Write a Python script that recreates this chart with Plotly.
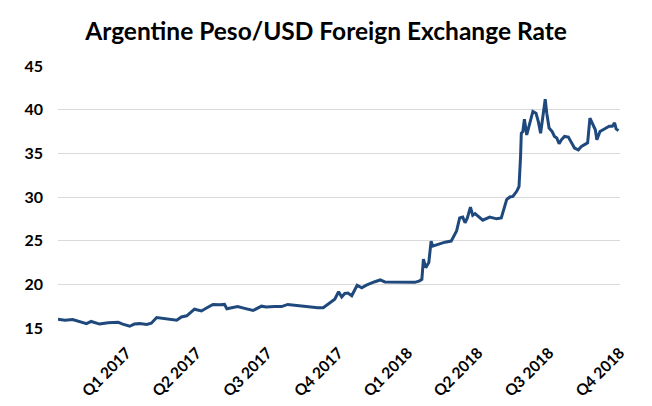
import plotly.graph_objects as go

dates = [
    "2017-01-01", "2017-01-10", "2017-01-20", "2017-01-27", "2017-02-07", "2017-02-13",
    "2017-02-24", "2017-03-07", "2017-03-20", "2017-03-26", "2017-04-04", "2017-04-10",
    "2017-04-17", "2017-04-26", "2017-05-02", "2017-05-09", "2017-05-19", "2017-05-26",
    "2017-06-04", "2017-06-10", "2017-06-17", "2017-06-27", "2017-07-06", "2017-07-15",
    "2017-07-21", "2017-07-30", "2017-08-05", "2017-08-08", "2017-08-18", "2017-08-22",
    "2017-08-31", "2017-09-11", "2017-09-22", "2017-09-28", "2017-10-09", "2017-10-18",
    "2017-10-26", "2017-11-04", "2017-11-13", "2017-11-23", "2017-12-04", "2017-12-11",
    "2017-12-17", "2017-12-26", "2017-12-31", "2018-01-04", "2018-01-08", "2018-01-12",
    "2018-01-17", "2018-01-24", "2018-01-30", "2018-02-05", "2018-02-16", "2018-02-23",
    "2018-03-01", "2018-03-12", "2018-03-23", "2018-04-09", "2018-04-15", "2018-04-18",
    "2018-04-20", "2018-04-23", "2018-04-27", "2018-04-30", "2018-05-02", "2018-05-09",
    "2018-05-18", "2018-05-26", "2018-05-30", "2018-06-02", "2018-06-06", "2018-06-10",
    "2018-06-13", "2018-06-16", "2018-06-20", "2018-06-23", "2018-06-26", "2018-07-02",
    "2018-07-06", "2018-07-15", "2018-07-24", "2018-07-30", "2018-08-01", "2018-08-06",
    "2018-08-10", "2018-08-14", "2018-08-19", "2018-08-22", "2018-08-24", "2018-08-25",
    "2018-08-27", "2018-08-29", "2018-09-01", "2018-09-04", "2018-09-09", "2018-09-13",
    "2018-09-16", "2018-09-19", "2018-09-21", "2018-09-25", "2018-09-27", "2018-09-30",
    "2018-10-04", "2018-10-07", "2018-10-10", "2018-10-13", "2018-10-16", "2018-10-20",
    "2018-10-25", "2018-10-29", "2018-11-02", "2018-11-07", "2018-11-11", "2018-11-15",
    "2018-11-19", "2018-11-22", "2018-11-26", "2018-11-29", "2018-12-01", "2018-12-05",
    "2018-12-09", "2018-12-13", "2018-12-17", "2018-12-21", "2018-12-24", "2018-12-26",
    "2018-12-29",
]

rates = [
    16.0, 15.9, 15.97, 15.8, 15.5, 15.75,
    15.45, 15.6, 15.65, 15.45, 15.2, 15.45,
    15.5, 15.4, 15.55, 16.2, 16.1, 15.97,
    15.9, 16.27, 16.4, 17.15, 16.95, 17.4,
    17.7, 17.65, 17.7, 17.2, 17.33, 17.45,
    17.25, 17.0, 17.5, 17.4, 17.45, 17.45,
    17.7, 17.6, 17.5, 17.45, 17.33, 17.33,
    17.7, 18.3, 19.15, 18.55, 18.95, 19.0,
    18.7, 19.9, 19.6, 19.9, 20.3, 20.5,
    20.27, 20.27, 20.23, 20.23, 20.4, 20.57,
    22.9, 21.9, 22.5, 24.95, 24.37, 24.57,
    24.83, 24.95, 25.7, 26.1, 27.6, 27.7,
    27.05, 27.6, 28.85, 27.9, 28.1, 27.6,
    27.35, 27.7, 27.5, 27.6, 28.2, 29.7,
    30.0, 30.07, 30.65, 31.2, 34.6, 37.3,
    37.5, 38.9, 37.1, 38.07, 39.8, 39.6,
    38.65, 37.3, 38.8, 41.2, 39.6, 37.9,
    37.5, 36.93, 36.75, 36.1, 36.55, 36.93,
    36.86, 36.2, 35.6, 35.4, 35.8, 36.0,
    36.2, 39.03, 38.27, 37.7, 36.55, 37.5,
    37.7, 37.9, 38.1, 38.1, 38.5, 37.8,
    37.6,
]

tick_dates = ["2017-03-31", "2017-06-30", "2017-09-30", "2017-12-31",
              "2018-03-31", "2018-06-30", "2018-09-30", "2018-12-31"]
tick_labels = ["Q1 2017", "Q2 2017", "Q3 2017", "Q4 2017",
               "Q1 2018", "Q2 2018", "Q3 2018", "Q4 2018"]
y_ticks = [15, 20, 25, 30, 35, 40, 45]

fig = go.Figure()
fig.add_trace(go.Scatter(
    x=dates, y=rates, mode="lines",
    line=dict(color="#1F497D", width=3),
    showlegend=False,
))

fig.update_layout(
    width=652, height=406,
    margin=dict(l=58, r=32, t=66, b=78),
    paper_bgcolor="white", plot_bgcolor="white",
    title=dict(
        text="<b>Argentine Peso/USD Foreign Exchange Rate</b>",
        x=0.5, xanchor="center", xref="container",
        y=1 - 31 / 406, yanchor="middle", yref="container",
        font=dict(family="Lato", size=24.5, color="black"),
    ),
    xaxis=dict(
        type="date",
        range=["2017-01-01", "2018-12-31"],
        tickmode="array", tickvals=tick_dates,
        ticktext=[f"<b>{t}</b>" for t in tick_labels],
        tickangle=-45,
        tickfont=dict(family="Lato", size=15.5, color="black"),
        showgrid=False, zeroline=False, showline=False,
        ticks="", ticklabelstandoff=12, automargin=False,
    ),
    yaxis=dict(
        range=[15, 45],
        tickmode="array", tickvals=y_ticks,
        ticktext=[f"<b>{v}</b>" for v in y_ticks],
        tickfont=dict(family="Lato", size=16, color="black"),
        showgrid=True, gridcolor="#D9D9D9", gridwidth=1,
        zeroline=False, showline=False,
        ticks="", ticklabelstandoff=14, automargin=False,
    ),
)

fig.write_html("out.html")
